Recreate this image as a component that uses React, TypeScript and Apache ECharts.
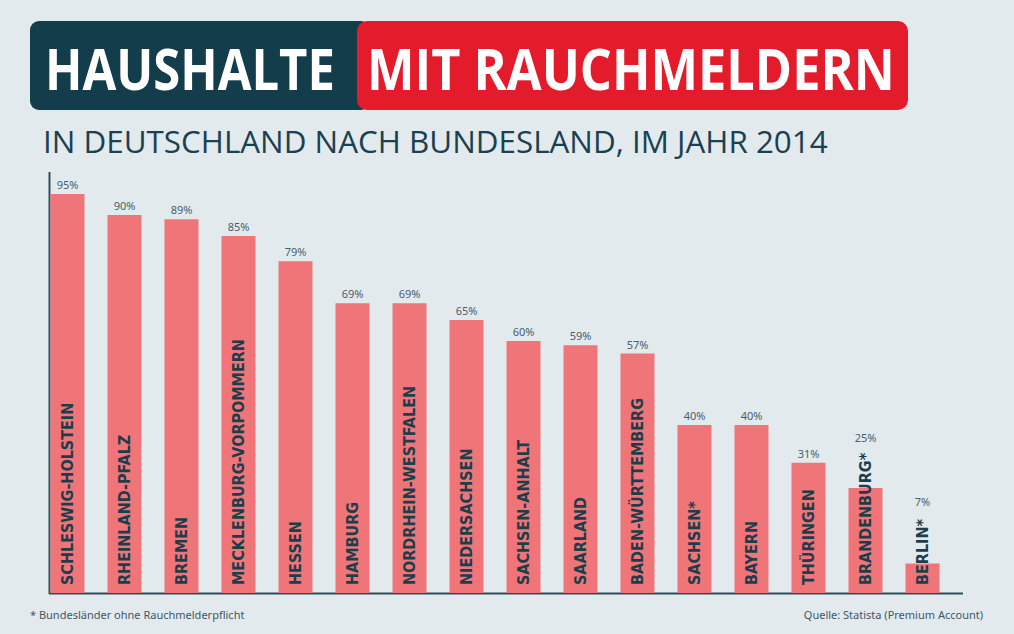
import React, { useEffect, useRef } from "react";
import * as echarts from "echarts";

const categories = [
  "SCHLESWIG-HOLSTEIN",
  "RHEINLAND-PFALZ",
  "BREMEN",
  "MECKLENBURG-VORPOMMERN",
  "HESSEN",
  "HAMBURG",
  "NORDRHEIN-WESTFALEN",
  "NIEDERSACHSEN",
  "SACHSEN-ANHALT",
  "SAARLAND",
  "BADEN-WÜRTTEMBERG",
  "SACHSEN*",
  "BAYERN",
  "THÜRINGEN",
  "BRANDENBURG*",
  "BERLIN*",
];
const values = [95, 90, 89, 85, 79, 69, 69, 65, 60, 59, 57, 40, 40, 31, 25, 7];

const titleLeft = "HAUSHALTE";
const titleRight = "MIT RAUCHMELDERN";
const subtitle = "IN DEUTSCHLAND NACH BUNDESLAND, IM JAHR 2014";
const footnote = "* Bundesländer ohne Rauchmelderpflicht";
const source = "Quelle: Statista (Premium Account)";

const FONT = "'DejaVu Sans Condensed', 'Noto Sans', sans-serif";
const FONT2 = "'Noto Sans', 'Open Sans', sans-serif";
const FONT3 = "'Open Sans', 'Noto Sans', sans-serif";

function fitScale(text: string, font: string, target: number): number {
  const c = document.createElement("canvas");
  const ctx = c.getContext("2d");
  if (!ctx) return 1;
  ctx.font = font;
  const w = ctx.measureText(text).width;
  return w > 0 ? target / w : 1;
}

export default function App() {
  const ref = useRef<HTMLDivElement>(null);
  useEffect(() => {
    if (!ref.current) return;
    const chart = echarts.init(ref.current, null, { renderer: "svg" });
    const valueLabelOffsets: Record<number, number> = { 14: -41, 15: -53 };
    const titleFont = `bold 57px ${FONT3}`;
    const subFont = `31px ${FONT3}`;
    const sL = fitScale(titleLeft, titleFont, 290);
    const sR = fitScale(titleRight, titleFont, 528);
    const sS = fitScale(subtitle, subFont, 785);
    chart.setOption({
      animation: false,
      backgroundColor: "#e3eaee",
      grid: { left: 39, width: 912, top: 173, height: 420 },
      xAxis: {
        type: "category",
        data: categories,
        axisLine: { show: false },
        axisTick: { show: false },
        axisLabel: { show: false },
      },
      yAxis: {
        type: "value",
        min: 0,
        max: 100,
        axisLine: { show: false },
        axisTick: { show: false },
        axisLabel: { show: false },
        splitLine: { show: false },
      },
      series: [
        {
          type: "bar",
          barWidth: 34,
          data: values.map((v, i) => ({
            value: v,
            label: valueLabelOffsets[i] !== undefined ? { offset: [0, valueLabelOffsets[i]] } : undefined,
          })),
          itemStyle: { color: "#ef7578" },
          label: {
            show: true,
            position: "top",
            distance: 4,
            formatter: "{c}%",
            fontFamily: FONT2,
            fontSize: 11,
            color: "#46616c",
          },
        },
        {
          type: "bar",
          barWidth: 34,
          barGap: "-100%",
          data: values,
          itemStyle: { color: "rgba(0,0,0,0)" },
          label: {
            show: true,
            position: "insideBottom",
            rotate: 90,
            align: "left",
            verticalAlign: "middle",
            distance: 8,
            formatter: (p: any) => p.name,
            fontFamily: FONT,
            fontWeight: "bold",
            fontSize: 16,
            color: "#1b3d4c",
          },
        },
      ],
      graphic: [
        { type: "rect", shape: { x: 30, y: 21, width: 340, height: 89, r: 9 }, style: { fill: "#143d4c" } },
        { type: "rect", shape: { x: 357, y: 21, width: 551, height: 89, r: 10 }, style: { fill: "#e41b2b" } },
        {
          type: "text",
          x: 45,
          y: 68,
          scaleX: sL,
          style: {
            text: titleLeft,
            fill: "#ffffff",
            font: titleFont,
            textVerticalAlign: "middle",
          },
        },
        {
          type: "text",
          x: 367,
          y: 68,
          scaleX: sR,
          style: {
            text: titleRight,
            fill: "#ffffff",
            font: titleFont,
            textVerticalAlign: "middle",
          },
        },
        {
          type: "text",
          x: 43,
          y: 141,
          scaleX: sS,
          style: {
            text: subtitle,
            fill: "#1a4150",
            font: subFont,
            textVerticalAlign: "middle",
          },
        },
        { type: "line", shape: { x1: 49.5, y1: 172, x2: 49.5, y2: 594 }, style: { stroke: "#2d4e5b", lineWidth: 2 } },
        { type: "line", shape: { x1: 49, y1: 593.5, x2: 963, y2: 593.5 }, style: { stroke: "#2d4e5b", lineWidth: 2 } },
        {
          type: "text",
          x: 30,
          y: 614,
          style: { text: footnote, fill: "#3d5866", font: `11px ${FONT2}`, textVerticalAlign: "middle" },
        },
        {
          type: "text",
          x: 983,
          y: 614,
          style: {
            text: source,
            fill: "#3d5866",
            font: `11px ${FONT2}`,
            textAlign: "right",
            textVerticalAlign: "middle",
          },
        },
      ],
    });
    return () => chart.dispose();
  }, []);
  return (
    <div
      ref={ref}
      style={{ position: "fixed", left: 0, top: 0, width: 1014, height: 634 }}
    />
  );
}
